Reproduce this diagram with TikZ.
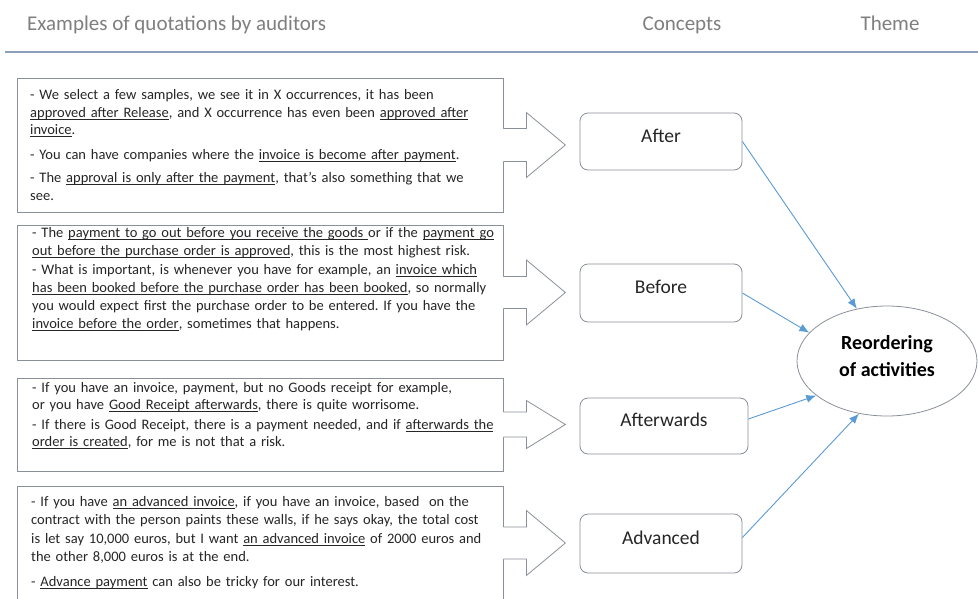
\documentclass[tikz,border=0pt]{standalone}
\usepackage{fontspec}
\setmainfont{Carlito}
\frenchspacing
\usetikzlibrary{shapes.geometric,arrows.meta,calc}
\definecolor{boxgray}{HTML}{8A909A}
\definecolor{txt}{HTML}{262626}
\definecolor{hdrgray}{HTML}{7F7F7F}
\definecolor{bluecon}{HTML}{5B9BD5}
\definecolor{hlinec}{HTML}{8DA0BB}
\newsavebox\ulqbox
\newcommand\ulq[1]{\leavevmode\sbox\ulqbox{#1}\rlap{\rule[-2.3pt]{\wd\ulqbox}{0.7pt}}\usebox\ulqbox}
\tikzset{
  boxline/.style={draw=boxgray, line width=0.8pt},
  qbox/.style={boxline, fill=white, rectangle, inner sep=0pt},
  qtext/.style={anchor=base west, inner sep=0pt, text width=472pt, align=left, text=txt},
  concept/.style={boxline, rounded corners=8pt, fill=white, inner sep=0pt,
    text=txt, font=\fontsize{19.5}{23}\selectfont, text height=6pt, text depth=5pt},
  themeshape/.style={ellipse, draw=boxgray, line width=0.8pt, inner sep=0pt,
    minimum width=180pt, minimum height=110pt},
  hdr/.style={text=hdrgray, font=\fontsize{21}{25}\selectfont, inner sep=0pt},
  conn/.style={draw=bluecon, line width=0.9pt, -{Latex[length=10pt,width=8pt]}},
}
\newcommand\blockarr[3]{%
  \path[fill=white] ($(#1.east)+(-2,-#2)$) -- ($(#1.east)+(23,-#2)$) -- ($(#1.east)+(23,-#3)$)
     -- ($(#1.east)+(62,0)$) -- ($(#1.east)+(23,#3)$) -- ($(#1.east)+(23,#2)$)
     -- ($(#1.east)+(-2,#2)$) -- cycle;
  \draw[boxline, line join=miter] ($(#1.east)+(0,-#2)$) -- ($(#1.east)+(23,-#2)$) -- ($(#1.east)+(23,-#3)$)
     -- ($(#1.east)+(62,0)$) -- ($(#1.east)+(23,#3)$) -- ($(#1.east)+(23,#2)$)
     -- ($(#1.east)+(0,#2)$);
}
\begin{document}
\begin{tikzpicture}[x=1pt, y=-1pt]
\useasboundingbox[fill=white] (0,0) rectangle (978,598);

% header
\node[hdr, anchor=base west] (h1) at (27,30) {Examples of quotations by auditors};
\node[hdr, anchor=base] (h2) at (682,30) {Concepts};
\node[hdr, anchor=base] (h3) at (890,30) {Theme};
\coordinate (hl1) at (5,52);
\coordinate (hl2) at (978,52);
\draw[draw=hlinec, line width=1.8pt] (hl1) -- (hl2);

% quotation boxes
\node[qbox, minimum width=486pt, minimum height=134pt] (q1) at (260,145) {};
\node[qbox, minimum width=486pt, minimum height=135pt] (q2) at (260,292.5) {};
\node[qbox, minimum width=486pt, minimum height=93pt] (q3) at (260,424.5) {};
\node[qbox, minimum width=486pt, minimum height=114pt] (q4) at (260,543) {};

% block arrows
\blockarr{q1}{16.5}{32.5}
\blockarr{q2}{16}{32.5}
\blockarr{q3}{12.5}{24}
\blockarr{q4}{16}{32.5}

% quotation texts
\node[qtext, font=\fontsize{14.5}{17.5}\selectfont] (t1) at (30,99.5) {%
- We select a few samples, we see it in X occurrences, it has been\\
\ulq{approved after Release}, and X occurrence has even been \ulq{approved after}\\
\ulq{invoice}.\\[7.5pt]
- You can have companies where the \ulq{invoice is become after payment}.\\[5.8pt]
- The \ulq{approval is only after the payment}, that's also something that we\\
see.};

\node[qtext, font=\fontsize{14.5}{18}\selectfont] (t2) at (32,237.8) {%
- The \ulq{payment to go out before you receive the goods\ }or if the \ulq{payment go}\\
\ulq{out before the purchase order is approved}, this is the most highest risk.\\[1pt]
- What is important, is whenever you have for example, an \ulq{invoice which}\\
\ulq{has been booked before the purchase order has been booked}, so normally\\
you would expect first the purchase order to be entered. If you have the\\
\ulq{invoice before the order}, sometimes that happens.};

\node[qtext, font=\fontsize{14.5}{16.7}\selectfont] (t3) at (32,392.8) {%
- If you have an invoice, payment, but no Goods receipt for example,\\
or you have \ulq{Good Receipt afterwards}, there is quite worrisome.\\[3.3pt]
- If there is Good Receipt, there is a payment needed, and if \ulq{afterwards the}\\
\ulq{order is created}, for me is not that a risk.};

\node[qtext, font=\fontsize{14.5}{18.5}\selectfont] (t4) at (31,506) {%
- If you have \ulq{an advanced invoice}, if you have an invoice, based\ \ on the\\
contract with the person paints these walls, if he says okay, the total cost\\
is let say 10,000 euros, but I want \ulq{an advanced invoice} of 2000 euros and\\
the other 8,000 euros is at the end.\\[6pt]
- \ulq{Advance payment} can also be tricky for our interest.};

% concepts
\node[concept, minimum width=162pt, minimum height=57pt] (c1) at (661,141.5) {After};
\node[concept, minimum width=162pt, minimum height=58pt] (c2) at (661,293) {Before};
\node[concept, minimum width=168pt, minimum height=56pt] (c3) at (664,426) {Afterwards};
\node[concept, minimum width=162pt, minimum height=59pt] (c4) at (661,543.5) {Advanced};

% theme
\node[themeshape] (th) at (887,361) {};
\node[inner sep=0pt, align=center, text=black, font=\fontsize{20}{27}\selectfont\bfseries] (thl) at (887,356.5) {Reordering\\of activities};

% connectors
\draw[conn] (c1.east) -- (th.120);
\draw[conn] (c2.east) -- (th.160);
\draw[conn] ([yshift=7pt]c3.east) -- (th.206);
\draw[conn] ([yshift=6pt]c4.east) -- (th.242);
\end{tikzpicture}
\end{document}
